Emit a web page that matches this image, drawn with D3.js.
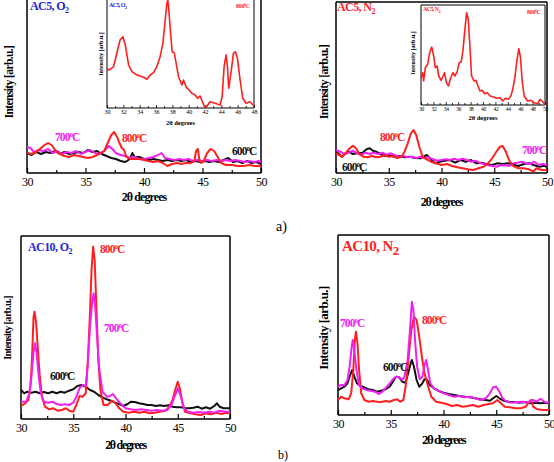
<!DOCTYPE html>
<html><head><meta charset="utf-8">
<script src="https://cdn.jsdelivr.net/npm/d3@7"></script>
<style>
body{margin:0;background:#fff;}
text{font-family:"Liberation Serif","Times New Roman",serif;}
</style></head>
<body><svg id="c" width="554" height="462"></svg>
<script>
// ---------- data (2θ in degrees, intensity in arbitrary units) ----------
const xTicksMain = [30, 35, 40, 45, 50];
const xTicksInset1 = [30, 32, 34, 36, 38, 40, 42, 44, 46, 48];
const xTicksInset2 = [30, 32, 34, 36, 38, 40, 42, 44, 46, 48, 50];
const temps = ["600°C", "700°C", "800°C"];

// AC5, O2
const ac5o2_600 = [[30,20],[30.4,18],[30.8,21],[31.2,19],[31.6,21],[32,20],[32.4,22],[32.8,19],[33.2,21],[33.6,19],[34,20],[34.4,21],[34.8,20],[35.2,23],[35.6,21],[36,22],[36.4,19],[36.8,17],[37.2,15],[37.6,14],[38,12],[38.4,11],[38.8,14],[39,20],[39.2,16],[39.6,16],[40,14],[40.4,13],[40.8,14],[41.2,13],[41.6,12],[42,13],[42.4,12],[42.8,13],[43.2,12],[43.6,13],[44,11],[44.4,12],[44.8,11],[45.2,12],[45.6,11],[46,12],[46.4,11],[46.8,13],[47.2,15],[47.6,11],[48,12],[48.4,10],[48.8,12],[49.2,10],[49.6,11],[50,9]];
const ac5o2_700 = [[30,26],[30.3,25],[30.6,21],[31,23],[31.4,22],[31.8,24],[32.2,20],[32.6,22],[33,19],[33.4,21],[33.8,20],[34.2,22],[34.6,19],[35,21],[35.4,23],[35.8,20],[36.2,19],[36.6,22],[37,27],[37.3,24],[37.6,20],[38,18],[38.4,17],[38.8,15],[39.2,16],[39.6,14],[40,14],[40.4,15],[40.8,16],[41.2,18],[41.5,20],[41.8,15],[42.2,14],[42.6,13],[43,14],[43.4,13],[43.8,14],[44.2,12],[44.6,13],[45,12],[45.4,13],[45.8,12],[46.2,13],[46.6,12],[47,13],[47.4,12],[47.8,13],[48.2,12],[48.6,11],[49,12],[49.4,11],[49.8,12],[50,11]];
const ac5o2_800 = [[30,20],[30.4,19],[30.8,21],[31.2,25],[31.5,28],[31.8,30],[32.1,28],[32.4,23],[32.8,19],[33.2,17],[33.6,16],[34,18],[34.4,17],[34.8,16],[35.2,15],[35.6,16],[36,18],[36.3,20],[36.6,22],[36.9,30],[37.2,38],[37.45,41],[37.7,36],[37.9,30],[38.1,25],[38.3,23],[38.5,16],[38.8,14],[39.2,14],[39.6,14],[40,13],[40.4,12],[40.8,11],[41.2,12],[41.6,10],[42,7],[42.4,9],[42.8,10],[43.2,9],[43.6,10],[44,10],[44.3,12],[44.45,22],[44.6,24],[44.75,12],[44.9,10],[45.1,12],[45.4,20],[45.7,24],[46,22],[46.3,16],[46.6,10],[47,8],[47.5,8],[48,7],[48.5,7],[49,8],[49.5,7],[50,7]];
const ac5o2_800_inset = [[30,39.7],[30.2,38],[30.4,38.7],[30.8,41.3],[31.2,54.7],[31.6,68],[31.95,71.3],[32.24,63],[32.44,53],[32.65,43],[33.05,36.3],[33.67,33],[34.07,32],[34.48,30.7],[34.89,28.7],[35.3,33],[35.7,35.3],[36.1,41.3],[36.5,51.3],[36.84,64.7],[37.13,88],[37.33,104.7],[37.45,108],[37.6,94.7],[37.82,71.3],[37.98,56.3],[38.23,55.3],[38.47,44.7],[38.76,31.3],[39.17,23],[39.37,28],[39.7,20.7],[39.98,18.7],[40.39,14.7],[40.8,13],[41.08,9.7],[41.4,12],[41.6,8],[41.9,2],[42.2,1.3],[42.6,6.3],[43.24,4.7],[43.85,3],[44.1,11.3],[44.34,41.3],[44.58,53],[44.75,41.3],[44.9,19.7],[45.15,33],[45.48,54.7],[45.72,56.3],[45.97,49.7],[46.3,28],[46.62,9.7],[47.03,4.7],[47.5,6.3],[48,2]];

// AC5, N2
const ac5n2_600 = [[30,21.3],[30.3,19],[30.55,16.3],[30.9,19.7],[31.2,21.3],[31.6,19],[32,19.7],[32.5,20.3],[32.9,23.7],[33.2,24.7],[33.5,22.3],[33.8,21.3],[34.2,19],[34.6,17],[35,18],[35.5,16.3],[36,17],[36.5,15.7],[37,16.3],[37.5,15],[38,14.7],[38.6,18],[39,13.7],[39.4,9.7],[39.8,11.3],[40.3,12.3],[40.8,13],[41.3,10.3],[41.8,13],[42.3,11.3],[42.8,13],[43.3,9.7],[43.8,10.3],[44.3,8.7],[44.8,8],[45.3,9.7],[45.8,9],[46.3,9.7],[46.8,8.3],[47.3,7],[47.8,9],[48.3,9.7],[48.8,7.7],[49.3,6.3],[49.7,7.3],[50,6.3]];
const ac5n2_700 = [[30,23],[30.4,21.3],[30.8,19],[31.2,20.3],[31.6,22.3],[32,19.7],[32.4,18],[32.8,20.3],[33.2,19],[33.6,20.3],[34,19],[34.4,20.3],[34.8,18.3],[35.2,19.7],[35.6,17.7],[36,16.3],[36.4,17],[36.8,15.7],[37.2,16.3],[37.6,15],[38,16.3],[38.4,14.7],[38.8,15.7],[39.2,13.7],[39.6,12.3],[40,13],[40.4,13.7],[40.8,13],[41.2,14.3],[41.6,13],[42,14.3],[42.4,13],[42.8,11.3],[43.2,12.3],[43.6,10.3],[44,9],[44.4,7.7],[44.8,7],[45.2,6.3],[45.6,7.7],[46,8],[46.4,7],[46.8,9.7],[47.2,10.3],[47.6,11.3],[48,9.7],[48.4,9],[48.8,11.3],[49.2,8],[49.6,9],[50,8]];
const ac5n2_800 = [[30,19.7],[30.3,18],[30.6,16.3],[30.9,19.7],[31.2,23.7],[31.6,27.3],[31.9,24.7],[32.2,19],[32.6,16.3],[33,15.7],[33.4,17],[33.8,15.7],[34.2,16.3],[34.6,17.7],[35,16.3],[35.4,17],[35.8,15],[36.2,16.3],[36.5,21.3],[36.8,29.7],[37.1,39.7],[37.35,43],[37.6,38],[37.9,26.3],[38.2,16.3],[38.6,13.7],[39,11.3],[39.5,9.7],[40,8],[40.5,9],[41,7],[41.5,5.7],[42,4.7],[42.5,3.7],[43,3],[43.5,4.7],[44,6.3],[44.4,9.7],[44.8,14.7],[45.2,21.3],[45.55,26.3],[45.8,27],[46.1,21.3],[46.4,13],[46.8,7],[47.3,4.7],[47.8,4.7],[48.3,3.7],[48.7,1.3],[49,4.7],[49.5,3],[50,3]];
const ac5n2_800_inset = [[30,27.3],[30.27,32.3],[30.43,24],[30.7,37.3],[31.08,40.7],[31.4,52.3],[31.73,58],[32.05,49],[32.3,37.3],[32.6,39],[32.86,29],[33.24,24.7],[33.57,29],[33.78,32.3],[34.1,22.3],[34.43,19],[34.76,26.7],[35.14,32.3],[35.46,29],[35.84,33.3],[36.16,42.3],[36.49,43.3],[36.76,54],[37.03,72.3],[37.35,92.3],[37.62,85.7],[37.9,57.3],[38.16,29],[38.54,24],[38.86,24.7],[39.19,19],[39.51,14],[39.89,14.7],[40.27,11.3],[40.7,12.3],[41.14,9],[41.68,8],[42.2,6.7],[42.76,7.3],[43.19,4],[43.62,6.7],[44.05,5.7],[44.49,9],[44.8,15.7],[45.14,27.3],[45.46,44],[45.78,56.3],[46.05,47.3],[46.32,24],[46.65,9],[47.19,4],[47.73,4.7],[48.27,2.3],[48.81,1.3],[49.19,5.7],[49.51,4],[50,0.5]];

// AC10, O2
const ac10o2_600 = [[30,29],[30.3,25.7],[30.6,27.3],[31,26.3],[31.4,27.3],[31.8,25.7],[32.2,27],[32.6,25.7],[33,27.3],[33.4,25.7],[33.8,27.3],[34.2,26.3],[34.6,28.3],[35,29.7],[35.4,33],[35.8,34],[36.2,32.3],[36.6,29],[37,27.3],[37.4,24],[37.8,21.7],[38.2,19.7],[38.6,18.3],[39,16.3],[39.4,15],[39.8,13],[40.2,15],[40.5,17.3],[40.9,17],[41.3,15.7],[41.7,15],[42.1,14],[42.5,14],[42.9,13],[43.3,13.7],[43.7,13],[44.1,13.7],[44.5,12.3],[44.9,11.7],[45.3,11.7],[45.7,11],[46.1,10.7],[46.5,11.3],[46.9,12.3],[47.3,10.3],[47.7,11.7],[48.1,10.3],[48.5,13],[48.75,15.7],[49,12.3],[49.4,10.7],[50,10.7]];
const ac10o2_700 = [[30,17.3],[30.5,17.3],[30.8,25.7],[31,42.3],[31.2,67.3],[31.35,75.7],[31.5,65.7],[31.7,42.3],[31.9,25.7],[32.2,17.3],[32.6,16.3],[33,17.3],[33.4,15],[33.8,14],[34.2,14.7],[34.6,14],[35,16.3],[35.3,22.3],[35.6,30.7],[35.9,34],[36.2,33],[36.4,55.7],[36.6,92.3],[36.8,115.7],[36.95,125.7],[37.1,112.3],[37.3,79],[37.5,49],[37.8,27.3],[38.2,22.3],[38.5,23],[38.8,25],[39.1,20.7],[39.5,15.7],[40,10.7],[40.5,9.7],[41,9],[41.5,9.7],[42,9],[42.5,8.3],[43,9],[43.5,8.3],[44,9],[44.4,14],[44.7,22.3],[45,30.7],[45.3,22.3],[45.6,10.7],[46,7.3],[46.5,6.3],[47,7],[47.5,6.3],[48,7.3],[48.5,6.3],[49,8.3],[49.5,7.3],[50,7.3]];
const ac10o2_800 = [[30,13],[30.4,15.7],[30.7,19],[30.9,32.3],[31.05,59],[31.2,102.3],[31.3,107.3],[31.45,95.7],[31.6,72.3],[31.8,42.3],[32,22.3],[32.3,12.3],[32.7,9.7],[33.1,10.7],[33.5,8.3],[33.9,9],[34.3,10.7],[34.6,8.3],[35,7.3],[35.3,14],[35.6,23],[35.9,22.3],[36.2,25.7],[36.4,59],[36.6,105.7],[36.75,149],[36.9,172.3],[37.05,159],[37.2,115.7],[37.4,59],[37.6,29],[37.9,14],[38.3,14],[38.7,18.3],[39,16.3],[39.4,10.7],[39.8,7.3],[40.3,6.3],[40.8,7.3],[41.3,6.3],[41.8,7.3],[42.3,5.7],[42.8,6.3],[43.3,7.3],[43.8,8.3],[44.2,12.3],[44.5,19],[44.8,30.7],[45,37.3],[45.2,30.7],[45.45,15.7],[45.7,7.3],[46.2,5.7],[46.7,4.7],[47.2,4],[47.7,5.7],[48.2,4.7],[48.7,6.3],[49.2,5],[49.6,6.3],[50,5.7]];

// AC10, N2
const ac10n2_600 = [[30,25],[30.3,26.7],[30.6,28.3],[30.9,31.7],[31.15,40],[31.35,45],[31.55,38.3],[31.8,31.7],[32.1,29],[32.5,27.7],[32.9,25.7],[33.3,25],[33.7,23.3],[34.1,24.3],[34.5,25.7],[34.9,28.3],[35.2,33.3],[35.5,38.3],[35.8,37.7],[36.1,33.3],[36.4,32.3],[36.65,41.7],[36.9,52.3],[37,55],[37.2,48.3],[37.45,35],[37.7,28.3],[37.95,31],[38.2,35.7],[38.4,35.7],[38.7,30],[39.1,26.7],[39.5,24.3],[40,22.3],[40.5,21],[41,20],[41.5,19],[42,18.3],[42.5,17.7],[43,16.7],[43.5,15.7],[44,15],[44.4,14.3],[44.7,16.7],[45,19],[45.3,16.7],[45.7,14.3],[46.2,13.3],[46.7,13],[47.2,12.3],[47.7,13],[48.2,11.7],[48.7,12.3],[49.2,11.7],[49.6,12.3],[50,11.7]];
const ac10n2_700 = [[30,28.3],[30.3,30],[30.6,29.7],[30.9,35],[31.1,48.3],[31.3,68.3],[31.4,75],[31.55,65],[31.75,45],[32,30],[32.3,26.7],[32.7,25],[33.1,24.3],[33.5,23.3],[33.9,21],[34.2,23.3],[34.5,26.7],[34.9,31.7],[35.2,35.7],[35.5,38.3],[35.8,37.7],[36.1,35],[36.3,38.3],[36.6,55],[36.8,81.7],[37,113.3],[37.15,105],[37.3,75],[37.5,48.3],[37.75,35.7],[38,38.3],[38.2,50],[38.35,55],[38.5,46.7],[38.75,31.7],[39.1,26.7],[39.5,24.3],[40,21.7],[40.5,20],[41,18.3],[41.5,19],[42,17.7],[42.5,18.3],[43,16.7],[43.5,15],[44,16.7],[44.4,21.7],[44.7,27.7],[45,28.3],[45.3,23.3],[45.6,16.7],[46,13.3],[46.5,12.3],[47,13],[47.5,13.3],[48,12.3],[48.5,15],[48.8,13.3],[49.2,16.3],[49.6,13],[50,12.3]];
const ac10n2_800 = [[30,15],[30.3,18.3],[30.6,16.7],[31,15.7],[31.25,21.7],[31.45,45],[31.6,75],[31.7,83.3],[31.85,71.7],[32,45],[32.2,21.7],[32.5,15],[32.9,13.3],[33.3,14],[33.7,13.3],[34.1,13],[34.5,14],[34.9,13.3],[35.3,15],[35.6,15.7],[35.9,13.3],[36.2,15],[36.45,31.7],[36.7,58.3],[36.95,85],[37.2,98.3],[37.45,95],[37.7,78.3],[37.95,58.3],[38.2,41.7],[38.5,30],[38.85,18.3],[39.3,13.3],[39.8,12.3],[40.3,11],[40.8,9],[41.3,10],[41.8,8.3],[42.3,9],[42.8,10],[43.3,8.3],[43.8,10],[44.3,11],[44.7,11.7],[45.1,15],[45.4,12.3],[45.8,8.3],[46.3,7.7],[46.8,6.7],[47.3,6.7],[47.8,8.3],[48.1,13.3],[48.3,15],[48.5,8.3],[48.9,5.7],[49.4,5],[50,5]];

// ---------- drawing ----------
const COL = {"600°C": "#111111", "700°C": "#f020f0", "800°C": "#ff1f1f"};
const svg = d3.select("#c");
svg.append("rect").attr("width", 554).attr("height", 462).attr("fill", "#fff");

function drawFrame(g, c, sides) {
  const s = {stroke: "#000", "stroke-width": c.fw || 1.5};
  const seg = (x1, y1, x2, y2) => { const l = g.append("line").attr("x1", x1).attr("y1", y1).attr("x2", x2).attr("y2", y2); Object.entries(s).forEach(([k, v]) => l.attr(k, v)); };
  if (sides.includes("l")) seg(c.left, c.top, c.left, c.bottom);
  if (sides.includes("r")) seg(c.right, c.top, c.right, c.bottom);
  if (sides.includes("t")) seg(c.left, c.top, c.right, c.top);
  if (sides.includes("b")) seg(c.left, c.bottom, c.right, c.bottom);
}

function panel(c) {
  const g = svg.append("g");
  if (c.bg) g.append("rect").attr("x", c.left).attr("y", Math.max(c.top, 0)).attr("width", c.right - c.left).attr("height", c.bottom - Math.max(c.top, 0)).attr("fill", "#fff");
  const x = d3.scaleLinear().domain(c.xdom).range([c.left, c.right]);
  const y = d3.scaleLinear().domain([0, c.bottom - c.top]).range([c.bottom, c.top]);
  const minor = d3.axisBottom(x).tickValues(c.minor).tickSize(-c.minorLen).tickFormat("").tickSizeOuter(0);
  g.append("g").attr("transform", `translate(0,${c.bottom})`).call(minor).call(a => a.select(".domain").remove()).selectAll("line").attr("stroke-width", c.tw || 1.2);
  const major = d3.axisBottom(x).tickValues(c.ticks).tickSize(-c.majorLen).tickPadding(c.pad).tickSizeOuter(0);
  const ax = g.append("g").attr("transform", `translate(0,${c.bottom})`).call(major);
  ax.select(".domain").remove();
  ax.selectAll("line").attr("stroke-width", c.tw || 1.2);
  ax.selectAll("text").attr("font-family", "Liberation Serif").attr("font-size", c.tickFont).attr("letter-spacing", c.tickLS || 0).attr("fill", "#000");
  drawFrame(g, c, c.sides);
  const line = d3.line().x(d => x(d[0])).y(d => y(d[1]));
  c.series.forEach(s => {
    g.append("path").datum(s.data).attr("d", line).attr("fill", "none").attr("stroke", COL[s.name]).attr("stroke-width", c.lw).attr("stroke-linejoin", "round");
  });
  g.append("text").attr("x", (c.left + c.right) / 2 + (c.xtDx || 0)).attr("y", c.xtY).attr("text-anchor", "middle").attr("font-weight", "bold").attr("font-size", c.titleFont).attr("letter-spacing", c.titleLS || 0).text("2θ degrees");
  g.append("text").attr("transform", `translate(${c.ytX},${c.ytY}) rotate(-90)`).attr("text-anchor", "middle").attr("font-weight", "bold").attr("font-size", c.yFont || c.titleFont).attr("letter-spacing", c.yLS || 0).text("Intensity [arb.u.]");
  return g;
}

function label(txt, x, y, color, size, ls) {
  const t = svg.append("text").attr("x", x).attr("y", y).attr("fill", color).attr("font-weight", "bold").attr("font-size", size).attr("letter-spacing", ls || 0);
  const m = txt.match(/^(\d+)°C$/);
  if (m) {
    t.append("tspan").text(m[1]);
    t.append("tspan").text("0").attr("font-size", size * 0.6).attr("dy", -size * 0.35);
    t.append("tspan").text("C").attr("dy", size * 0.35);
  } else t.text(txt);
  return t;
}
function sampleLabel(base, sub, x, y, color, size, subSize) {
  const t = svg.append("text").attr("x", x).attr("y", y).attr("fill", color).attr("font-weight", "bold").attr("font-size", size).attr("letter-spacing", -0.6);
  t.append("tspan").text(base);
  t.append("tspan").text(sub).attr("font-size", subSize).attr("dy", size * 0.25);
}

const major5 = {ticks: xTicksMain, minor: [32.5, 37.5, 42.5, 47.5], majorLen: 5, minorLen: 3};

// Panel a) AC5 O2
panel(Object.assign({left: 27, right: 261, top: -2, bottom: 173, xdom: [30, 50], sides: "lrb", lw: 2,
  pad: 4, tickFont: 12, tickLS: -0.6, titleFont: 12, titleLS: -0.9, xtY: 201, ytX: 13, ytY: 82, yFont: 11.5, yLS: -0.6,
  series: [{name: "600°C", data: ac5o2_600}, {name: "700°C", data: ac5o2_700}, {name: "800°C", data: ac5o2_800}]}, major5));
panel({left: 107, right: 254, top: -2, bottom: 108, xdom: [30, 48], sides: "lrb", lw: 1.6, bg: true, fw: 1,
  ticks: xTicksInset1, minor: d3.range(31, 48, 2), majorLen: 3, minorLen: 2, tw: 0.8,
  pad: 2, tickFont: 6, titleFont: 6.5, xtY: 125, ytX: 103, ytY: 54, yFont: 6,
  series: [{name: "800°C", data: ac5o2_800_inset}]});
sampleLabel("AC5, O", "2", 30, 10, "#2626d9", 12, 8);
sampleLabel("AC5, O", "2", 109, 7, "#2626d9", 6, 4.5);
label("800°C", 236, 8, COL["800°C"], 6, -0.3);
label("700°C", 55, 141, COL["700°C"], 11.5, -0.9);
label("800°C", 122, 142, COL["800°C"], 11.5, -0.9);
label("600°C", 232, 155, COL["600°C"], 11.5, -0.9);

// Panel a) AC5 N2
panel(Object.assign({left: 336, right: 547, top: 2, bottom: 173, xdom: [30, 50], sides: "lrbt", lw: 2,
  pad: 4, tickFont: 12, tickLS: -0.6, titleFont: 12, titleLS: -1.2, xtY: 206, ytX: 328, ytY: 82, yFont: 12, yLS: -0.7,
  series: [{name: "600°C", data: ac5n2_600}, {name: "700°C", data: ac5n2_700}, {name: "800°C", data: ac5n2_800}]}, major5));
panel({left: 421, right: 545, top: 5, bottom: 105, xdom: [30, 50], sides: "lrbt", lw: 1.6, bg: true, fw: 1,
  ticks: xTicksInset2, minor: d3.range(31, 50, 2), majorLen: 3, minorLen: 2, tw: 0.8,
  pad: 2, tickFont: 5.5, tickLS: -0.3, titleFont: 6.5, xtY: 120, ytX: 415, ytY: 53, yFont: 6,
  series: [{name: "800°C", data: ac5n2_800_inset}]});
sampleLabel("AC5, N", "2", 337, 11, COL["800°C"], 12, 8);
sampleLabel("AC5, N", "2", 423, 11, COL["800°C"], 6, 4.5);
label("800°C", 527, 14, COL["800°C"], 6, -0.3);
label("800°C", 380, 141, COL["800°C"], 11.5, -0.9);
label("600°C", 342, 171, COL["600°C"], 11.5, -0.9);
label("700°C", 522, 154, COL["700°C"], 11.5, -0.9);

// Panel b) AC10 O2
panel(Object.assign({left: 21, right: 230, top: 236, bottom: 419, xdom: [30, 50], sides: "lrbt", lw: 2,
  pad: 4, tickFont: 12, tickLS: -0.6, titleFont: 12, titleLS: -1.3, xtY: 449, ytX: 11, ytY: 328, yFont: 10.5, yLS: -0.7,
  series: [{name: "600°C", data: ac10o2_600}, {name: "800°C", data: ac10o2_800}, {name: "700°C", data: ac10o2_700}]}, major5));
sampleLabel("AC10, O", "2", 28, 251, "#2626d9", 12, 8);
label("800°C", 100, 253, COL["800°C"], 11.5, -0.9);
label("700°C", 104, 332, COL["700°C"], 11.5, -0.9);
label("600°C", 50, 380, COL["600°C"], 11.5, -0.9);

// Panel b) AC10 N2
panel(Object.assign({left: 338, right: 549, top: 235, bottom: 415, xdom: [30, 50], sides: "lrbt", lw: 2,
  pad: 4, tickFont: 12, tickLS: -0.6, titleFont: 13, titleLS: -1.5, xtY: 444, ytX: 328, ytY: 328, yFont: 13, yLS: -0.6,
  series: [{name: "600°C", data: ac10n2_600}, {name: "800°C", data: ac10n2_800}, {name: "700°C", data: ac10n2_700}]}, major5));
sampleLabel("AC10, N", "2", 342, 251, COL["800°C"], 15, 13);
label("700°C", 340, 327, COL["700°C"], 11.5, -0.9);
label("800°C", 422, 324, COL["800°C"], 11.5, -0.9);
label("600°C", 383, 371, COL["600°C"], 11.5, -0.9);

svg.append("text").attr("x", 276).attr("y", 231).attr("font-size", 14).text("a)");
svg.append("text").attr("x", 278).attr("y", 459).attr("font-size", 12).text("b)");
</script></body></html>
